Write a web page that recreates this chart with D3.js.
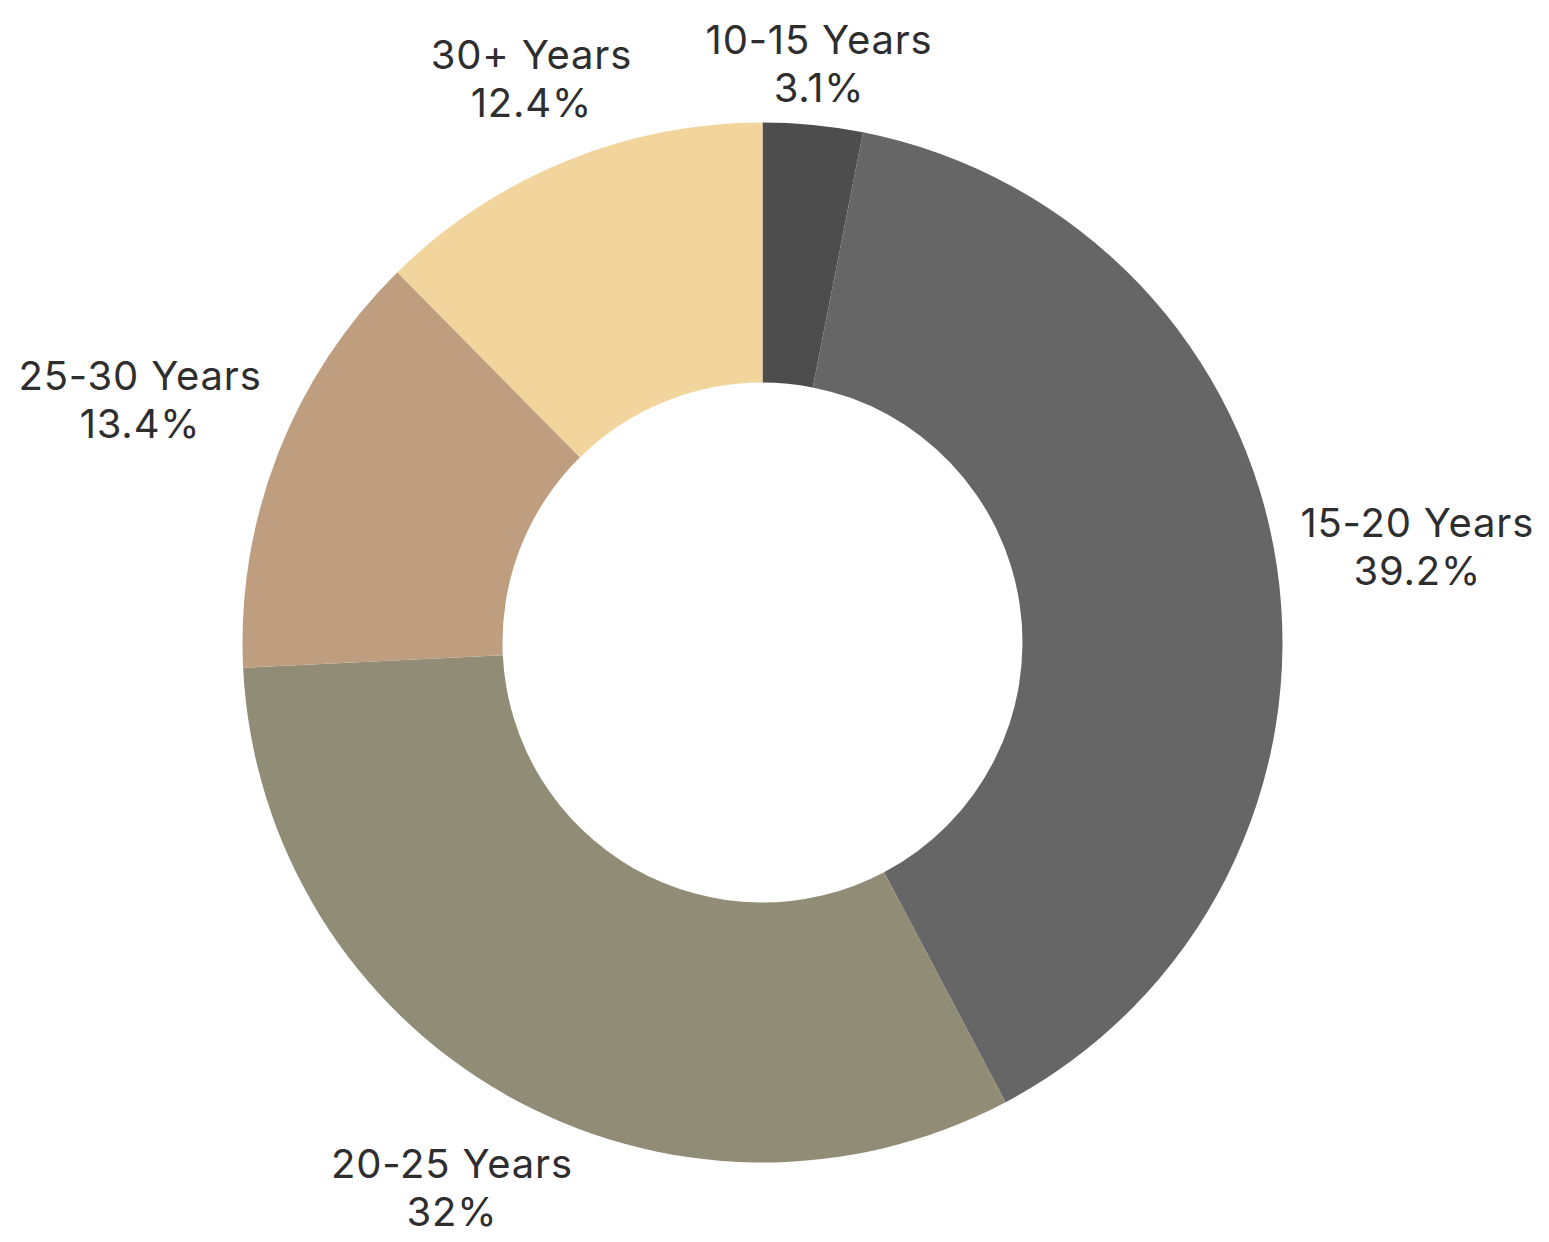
<!DOCTYPE html>
<html lang="en">
<head>
<meta charset="UTF-8">
<title>donut</title>
<script src="https://d3js.org/d3.v7.min.js"></script>
<style>
  body{margin:0;background:#fff;}
  svg{display:block;}
</style>
</head>
<body>
<div id="chart"></div>
<script>
// data
var categories=["10-15 Years","15-20 Years","20-25 Years","25-30 Years","30+ Years"];
var values=[3.1,39.2,32,13.4,12.4];
var colors=["#4d4d4d","#666666","#918c76","#bf9e80","#f2d59c"];

var width=1549,height=1242;
var cx=762.5,cy=642.5,
    outerR=520,innerR=260,
    labelGap=21,lineH=48,fontSize=40;

var svg=d3.select("#chart").append("svg")
    .attr("width",width)
    .attr("height",height);

var g=svg.append("g").attr("transform","translate("+cx+","+cy+")");

var pie=d3.pie().sort(null).value(function(d){return d;});
var arcs=pie(values);
var arc=d3.arc().innerRadius(innerR).outerRadius(outerR);

g.selectAll("path.slice")
  .data(arcs)
  .enter().append("path")
  .attr("class","slice")
  .attr("d",arc)
  .attr("fill",function(d,i){return colors[i];});

// labels: centred on the mid angle ray, pushed out until the box clears the ring
var labels=g.selectAll("g.lbl")
  .data(arcs)
  .enter().append("g")
  .attr("class","lbl");

labels.each(function(d,i){
  var t=d3.select(this).append("text")
    .attr("text-anchor","middle")
    .style("font-family","Inter, 'Noto Sans', sans-serif")
    .style("font-size",fontSize+"px")
    .style("letter-spacing","0.8px")
    .style("fill","#2e2e2e");
  t.append("tspan").attr("x",0).attr("y",0).text(categories[i]);
  t.append("tspan").attr("x",0).attr("y",lineH).text(d3.format("~")(values[i])+"%");
});

labels.attr("transform",function(d){
  var bb=this.getBBox();
  // glyph box: cap top of line 1 to baseline of line 2
  var top=-0.72*fontSize,bottom=lineH;
  var hw=bb.width/2,hh=(bottom-top)/2;
  var oy=top+hh;
  var a=(d.startAngle+d.endAngle)/2;
  var ux=Math.sin(a),uy=-Math.cos(a);
  function nearest(r){
    var x=ux*r,y=uy*r;
    var nx=Math.max(x-hw,Math.min(0,x+hw));
    var ny=Math.max(y-hh,Math.min(0,y+hh));
    return Math.sqrt(nx*nx+ny*ny);
  }
  var lo=outerR,hi=outerR+400;
  for(var k=0;k<40;k++){
    var mid=(lo+hi)/2;
    if(nearest(mid)<outerR+labelGap) lo=mid; else hi=mid;
  }
  return "translate("+(ux*lo)+","+(uy*lo-oy)+")";
});
</script>
</body>
</html>
